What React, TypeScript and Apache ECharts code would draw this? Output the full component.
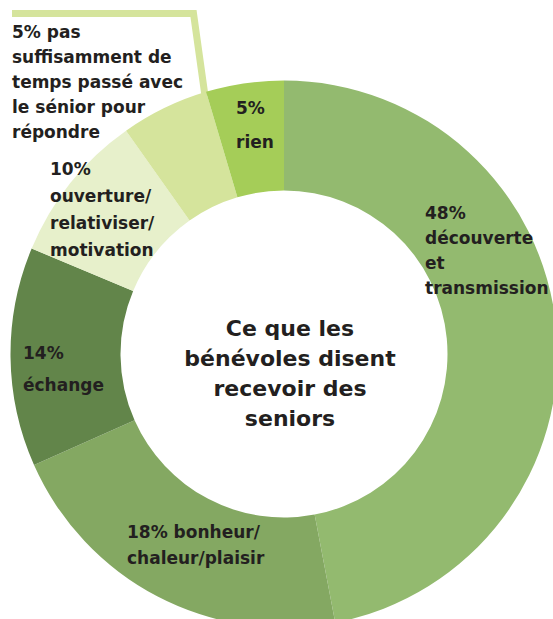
import React, { useEffect, useRef } from "react";
import * as echarts from "echarts";

const categories = [
  "découverte et transmission",
  "bonheur/chaleur/plaisir",
  "échange",
  "ouverture/relativiser/motivation",
  "pas suffisamment de temps passé avec le sénior pour répondre",
  "rien",
];
// slice shares as drawn in the picture (angles)
const values = [47.0, 21.35, 12.95, 8.9, 5.2, 4.6];
// printed percentages
const printedPct = ["48%", "18%", "14%", "10%", "5%", "5%"];
const labelTexts = [
  "48%\ndécouverte\net\ntransmission",
  "18% bonheur/\nchaleur/plaisir",
  "14%\néchange",
  "10%\nouverture/\nrelativiser/\nmotivation",
  "5% pas\nsuffisamment de\ntemps passé avec\nle sénior pour\nrépondre",
  "5%\nrien",
];
const centerTitle = "Ce que les\nbénévoles disent\nrecevoir des\nseniors";

const colors = ["#93BA6F", "#84A862", "#62854A", "#E7F0CB", "#D5E49C", "#A5CD58"];
const labelPos = [
  { x: 425, y: 200.5, lh: 25 },
  { x: 127, y: 519, lh: 26 },
  { x: 23, y: 337, lh: 32 },
  { x: 50, y: 155.5, lh: 27 },
  { x: 12, y: 19.5, lh: 25 },
  { x: 236, y: 91, lh: 34 },
];

const FONT = "DejaVu Sans";
const TEXT_COLOR = "#231F20";

export default function App() {
  const ref = useRef<HTMLDivElement>(null);
  useEffect(() => {
    document.body.style.margin = "0";
    const chart = echarts.init(ref.current!, null, { renderer: "svg" });
    chart.setOption({
      animation: false,
      backgroundColor: "#ffffff",
      graphic: [
        {
          type: "polyline",
          z: 0,
          shape: { points: [[12, 13.5], [193.5, 13.5], [205, 96]] },
          style: { stroke: "#D5E49C", lineWidth: 7, fill: null },
        },
        {
          type: "text",
          z: 10,
          x: 290,
          y: 373,
          style: {
            text: centerTitle,
            fontFamily: FONT,
            fontWeight: "bold",
            fontSize: 22,
            lineHeight: 30,
            fill: TEXT_COLOR,
            align: "center",
            verticalAlign: "middle",
          },
        },
      ],
      series: [
        {
          type: "pie",
          center: [284, 354],
          radius: [163.5, 273.5],
          startAngle: 90,
          clockwise: true,
          avoidLabelOverlap: false,
          z: 2,
          itemStyle: { borderWidth: 0 },
          emphasis: { disabled: true },
          labelLine: { show: false },
          data: categories.map((name, i) => ({
            name,
            value: values[i],
            itemStyle: { color: colors[i] },
            label: { lineHeight: labelPos[i].lh },
          })),
          label: {
            show: true,
            position: "inside",
            formatter: (p: any) => labelTexts[p.dataIndex],
            fontFamily: FONT,
            fontWeight: "bold",
            fontSize: 17,
            color: TEXT_COLOR,
            align: "left",
            verticalAlign: "top",
          },
          labelLayout: (p: any) => ({
            x: labelPos[p.dataIndex].x,
            y: labelPos[p.dataIndex].y,
            align: "left",
            verticalAlign: "top",
          }),
        },
      ],
    });
    return () => chart.dispose();
  }, []);
  return (
    <div
      ref={ref}
      style={{ position: "absolute", left: 0, top: 0, width: 553, height: 619 }}
    />
  );
}
